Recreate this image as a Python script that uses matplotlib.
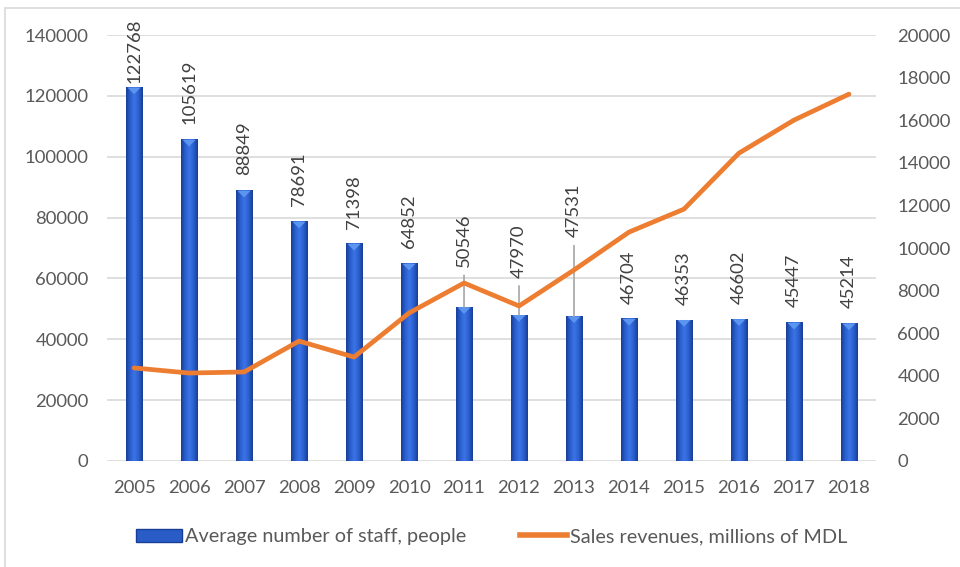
import numpy as np
import matplotlib.pyplot as plt
from matplotlib.colors import LinearSegmentedColormap
from matplotlib.patches import Rectangle, Polygon
from matplotlib.lines import Line2D
from matplotlib.patches import Patch

plt.rcParams['font.family'] = ['Lato', 'DejaVu Sans']

# Data
years = ['2005', '2006', '2007', '2008', '2009', '2010', '2011',
         '2012', '2013', '2014', '2015', '2016', '2017', '2018']
staff = [122768, 105619, 88849, 78691, 71398, 64852, 50546,
         47970, 47531, 46704, 46353, 46602, 45447, 45214]
revenue = [4370, 4130, 4180, 5630, 4880, 6950, 8360,
           7280, 8970, 10750, 11830, 14460, 16010, 17230]
# vertical offset (points) of each data label above its bar
label_offsets = [3, 11, 11, 11, 11, 11, 29, 27, 57, 11, 11, 11, 11, 11]
leader = [False] * 6 + [True, True, True] + [False] * 5

TEXT = '#595959'
GRID = '#d9d9d9'
ORANGE = '#ED7D31'
FS = 13.3

fig = plt.figure(figsize=(9.6, 5.67), dpi=100)
ax = fig.add_axes([0.111, 0.187, 0.802, 0.751])
ax2 = ax.twinx()

x = np.arange(len(years))
width = 0.3
bars = ax.bar(x, staff, width=width, color='#2A5CC8', zorder=2)

# cylinder-like shading on each bar
cyl = LinearSegmentedColormap.from_list(
    'cyl', ['#173E96', '#2B5FCF', '#3C74E6', '#2B5FCF', '#173E96'])
grad = np.linspace(0, 1, 64).reshape(1, -1)
for b in bars:
    x0, w, h = b.get_x(), b.get_width(), b.get_height()
    ax.imshow(grad, cmap=cyl, aspect='auto', extent=(x0, x0 + w, 0, h),
              zorder=3, interpolation='bicubic')
    tri = Polygon([(x0 + 0.1 * w, h), (x0 + 0.9 * w, h),
                   (x0 + 0.5 * w, h - 2200)], closed=True,
                  facecolor='#5C95F0', edgecolor='none', zorder=4)
    ax.add_patch(tri)

# rotated data labels
for i, v in enumerate(staff):
    if leader[i]:
        ax.annotate(str(v), xy=(x[i], v), xytext=(0, label_offsets[i]),
                    textcoords='offset points', rotation=90, ha='center',
                    va='bottom', fontsize=FS, color='#404040',
                    annotation_clip=False, zorder=6,
                    arrowprops=dict(arrowstyle='-', color='#a6a6a6', lw=1.2,
                                    relpos=(0.5, 0.0), shrinkA=4, shrinkB=0))
    else:
        ax.annotate(str(v), xy=(x[i], v), xytext=(0, label_offsets[i]),
                    textcoords='offset points', rotation=90, ha='center',
                    va='bottom', fontsize=FS, color='#404040',
                    annotation_clip=False, zorder=6)

ax.set_xlim(-0.5, len(years) - 0.5)
ax.set_ylim(0, 140000)
ax.set_yticks(np.arange(0, 140001, 20000))
ax.set_xticks(x)
ax.set_xticklabels(years)
ax.grid(axis='y', color=GRID, lw=1.2, zorder=0)
ax.set_axisbelow(True)

ax2.plot(x, revenue, color=ORANGE, lw=3.4, solid_capstyle='round',
         solid_joinstyle='round', zorder=5)
ax2.set_ylim(0, 20000)
ax2.set_yticks(np.arange(0, 20001, 2000))

for a in (ax, ax2):
    for s in a.spines.values():
        s.set_visible(False)
    a.tick_params(length=0, labelsize=FS, labelcolor=TEXT)
ax.tick_params(axis='y', pad=13)
ax.tick_params(axis='x', pad=14)
ax2.tick_params(axis='y', pad=15)
ax2.set_zorder(ax.get_zorder() + 1)
ax2.patch.set_visible(False)

handles = [Patch(facecolor='#2A5CC8', edgecolor='#173E96'),
           Line2D([0], [0], color=ORANGE, lw=4)]
fig.legend(handles, ['Average number of staff, people',
                     'Sales revenues, millions of MDL'],
           loc='center', bbox_to_anchor=(0.512, 0.053), ncol=2, frameon=False,
           fontsize=14.3, labelcolor=TEXT, handlelength=2.35,
           handletextpad=0.15, columnspacing=2.7)

# light border around the chart area
fig.add_artist(Rectangle((5 / 960, -0.05), 1.1, 1 - 8 / 567 + 0.05,
                         transform=fig.transFigure, fill=False,
                         edgecolor=GRID, lw=1.2))

fig.savefig('out.png', dpi=100)
